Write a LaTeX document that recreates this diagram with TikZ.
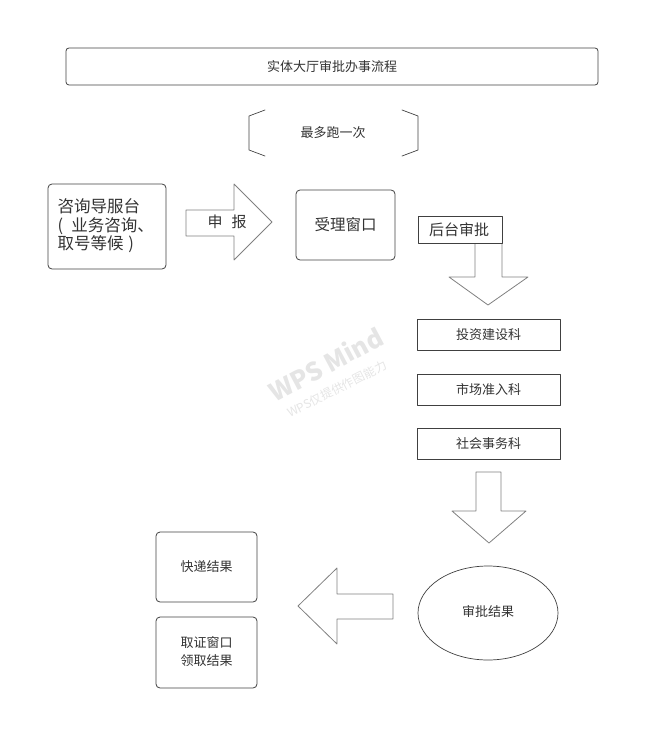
\documentclass[tikz,border=0pt]{standalone}
\usepackage{fontspec}
\setmainfont{Noto Sans CJK SC}
\usetikzlibrary{calc}
\definecolor{boxline}{rgb}{0.25,0.25,0.25}
\definecolor{arrowgray}{rgb}{0.5,0.5,0.5}
\definecolor{txtgray}{rgb}{0.2,0.2,0.2}
\definecolor{markgray}{rgb}{0.9,0.9,0.9}
\tikzset{every node/.style={font=\fontsize{13}{15}\selectfont,text=txtgray}}

\begin{document}
\begin{tikzpicture}[line cap=round,line join=round,x=1pt,y=-1pt]
            \useasboundingbox (0,0) rectangle (658,749);
            % watermark
            \draw (326,364) node [rotate=28,text=markgray,font=\bfseries\fontsize{25}{25}\selectfont] (wmark) {WPS Mind};
            \draw (337,389) node [rotate=27,text=markgray,font=\fontsize{12}{13}\selectfont] (wnote) {WPS仅提供作图能力};
            % title and bracket
            \draw [line width=.8pt,color=boxline,rounded corners=3pt] (66,48) rectangle (598,85);
            \draw (332,66.5) node (title) {实体大厅审批办事流程};
            \draw [line width=.7pt,color=boxline] (265,110) -- (249,116) -- (249,150) -- (265,156);
            \draw [line width=.7pt,color=boxline] (402,110) -- (418,116) -- (418,150) -- (402,156);
            \draw (333,133) node (once) {最多跑一次};
            % front desk and window
            \draw [line width=.8pt,color=boxline,rounded corners=4pt] (48,184) rectangle (166,269);
            \draw (54,226) node [anchor=west,align=left,font=\fontsize{16.5}{18.5}\selectfont] (desk) {咨询导服台\\(\hspace{0.5em}业务咨询、\\取号等候\hspace{0.3em})};
            \draw [line width=.8pt,color=arrowgray] (186,210) -- (234,210) -- (234,184) -- (272,222) -- (234,260) -- (234,236) -- (186,236) -- cycle;
            \draw (227,222) node [font=\fontsize{15}{17}\selectfont] (apply) {申\hspace{0.6em}报};
            \draw [line width=.8pt,color=boxline,rounded corners=4pt] (296,190) rectangle (395,260);
            \draw (345.5,225) node [font=\fontsize{15.5}{17}\selectfont] (window) {受理窗口};
            % back office
            \draw [line width=.8pt,color=arrowgray] (475,243) -- (475,277) -- (449,277) -- (488,305) -- (528,277) -- (502,277) -- (502,243);
            \draw [line width=.8pt,color=boxline,fill=white] (418,216) rectangle (502,243);
            \draw (459,229.5) node [font=\fontsize{15}{17}\selectfont] (back) {后台审批};
            \draw [line width=.8pt,color=boxline] (417,319) rectangle (560,350);
            \draw (488.5,334.5) node (invest) {投资建设科};
            \draw [line width=.8pt,color=boxline] (417,374) rectangle (560,405);
            \draw (488.5,389.5) node (market) {市场准入科};
            \draw [line width=.8pt,color=boxline] (417,428) rectangle (560,459);
            \draw (488.5,443.5) node (social) {社会事务科};
            \draw [line width=.8pt,color=arrowgray] (476,472) -- (501,472) -- (501,511) -- (526,511) -- (489,543) -- (452,511) -- (476,511) -- cycle;
            % result
            \draw [line width=.7pt,color=boxline] (488,613) ellipse (70pt and 47pt);
            \draw (488,612) node (result) {审批结果};
            \draw [line width=.8pt,color=arrowgray] (393,594) -- (337,594) -- (337,568) -- (298,606) -- (337,644) -- (337,619) -- (393,619) -- cycle;
            \draw [line width=.8pt,color=boxline,rounded corners=4pt] (156,532) rectangle (257,602);
            \draw (206.5,567) node (post) {快递结果};
            \draw [line width=.8pt,color=boxline,rounded corners=4pt] (156,617) rectangle (257,688);
            \draw (206.5,652) node [align=center,font=\fontsize{13}{18}\selectfont] (pickup) {取证窗口\\领取结果};
            \end{tikzpicture}
\end{document}
